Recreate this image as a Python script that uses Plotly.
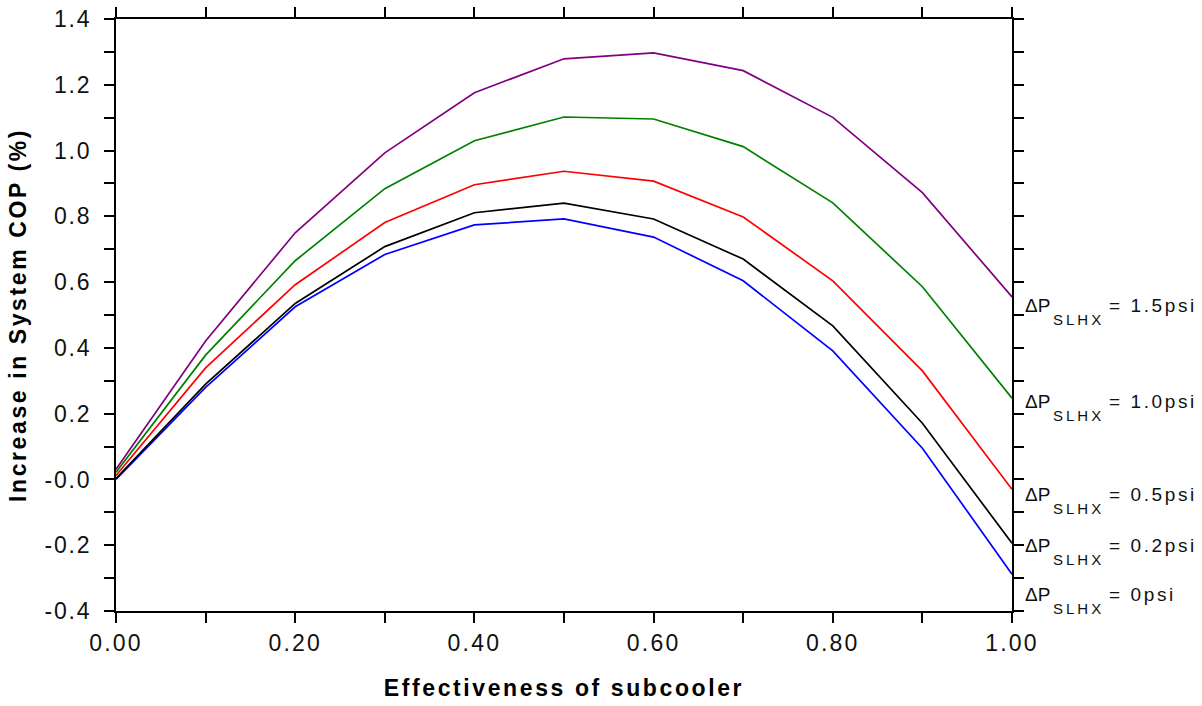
import plotly.graph_objects as go

effectiveness = [0.0, 0.1, 0.2, 0.3, 0.4, 0.5, 0.6, 0.7, 0.8, 0.9, 1.0]

cop_0psi   = [0.000, 0.280, 0.525, 0.684, 0.774, 0.792, 0.737, 0.604, 0.391, 0.095, -0.288]
cop_02psi  = [0.003, 0.290, 0.535, 0.708, 0.811, 0.840, 0.792, 0.670, 0.467, 0.171, -0.194]
cop_05psi  = [0.012, 0.339, 0.592, 0.781, 0.896, 0.937, 0.907, 0.798, 0.604, 0.330, -0.030]
cop_10psi  = [0.022, 0.378, 0.665, 0.884, 1.030, 1.102, 1.096, 1.012, 0.841, 0.586, 0.247]
cop_15psi  = [0.031, 0.421, 0.750, 0.993, 1.176, 1.279, 1.297, 1.243, 1.101, 0.872, 0.555]

series_names = ["0psi", "0.2psi", "0.5psi", "1.0psi", "1.5psi"]
series_values = [cop_0psi, cop_02psi, cop_05psi, cop_10psi, cop_15psi]
series_colors = ["#0000ff", "#000000", "#ff0000", "#008000", "#800080"]
label_y = [-0.350, -0.201, -0.045, 0.237, 0.530]

x_tickvals = [0.0, 0.2, 0.4, 0.6, 0.8, 1.0]
x_ticktext = ["0.00", "0.20", "0.40", "0.60", "0.80", "1.00"]
x_minorvals = [0.1, 0.3, 0.5, 0.7, 0.9]
y_tickvals = [-0.4, -0.2, 0.0, 0.2, 0.4, 0.6, 0.8, 1.0, 1.2, 1.4]
y_ticktext = ["-0.4", "-0.2", "-0.0", "0.2", "0.4", "0.6", "0.8", "1.0", "1.2", "1.4"]
y_minorvals = [-0.3, -0.1, 0.1, 0.3, 0.5, 0.7, 0.9, 1.1, 1.3]

FONT = "Liberation Sans, Arial, sans-serif"
TXT = "#111111"

fig = go.Figure()
for name, vals, col in zip(series_names, series_values, series_colors):
    fig.add_trace(go.Scatter(x=effectiveness, y=vals, mode="lines",
                             line=dict(color=col, width=1.7), name=name,
                             showlegend=False))

for name, ly in zip(series_names, label_y):
    fig.add_annotation(x=1.0, y=ly, xref="x", yref="y", xanchor="left", yanchor="middle",
                       align="left", xshift=11, showarrow=False, text="ΔP",
                       font=dict(family=FONT, size=19, color=TXT))
    fig.add_annotation(x=1.0, y=ly, xref="x", yref="y", xanchor="left", yanchor="middle",
                       align="left", xshift=39, yshift=-14, showarrow=False, text="SLHX",
                       font=dict(family=FONT, size=15, color=TXT))
    fig.add_annotation(x=1.0, y=ly, xref="x", yref="y", xanchor="left", yanchor="middle",
                       align="left", xshift=95, showarrow=False, text="= " + name,
                       font=dict(family=FONT, size=19, color=TXT))

axis_common = dict(showline=True, linecolor="black", linewidth=2, mirror="ticks",
                   ticks="outside", ticklen=10, tickwidth=2, tickcolor="black",
                   showgrid=False, zeroline=False, automargin=False)

fig.update_xaxes(range=[0, 1.0], tickmode="array", tickvals=x_tickvals, ticktext=x_ticktext,
                 minor=dict(tickmode="array", tickvals=x_minorvals, ticks="outside",
                            ticklen=10, tickwidth=2, tickcolor="black", showgrid=False),
                 tickfont=dict(family=FONT, size=23, color=TXT),
                 title=dict(text="Effectiveness of subcooler",
                            font=dict(family=FONT, size=23, color="black", weight="bold"),
                            standoff=25),
                 **axis_common)
fig.update_yaxes(range=[-0.4, 1.4], tickmode="array", tickvals=y_tickvals, ticktext=y_ticktext,
                 minor=dict(tickmode="array", tickvals=y_minorvals, ticks="outside",
                            ticklen=10, tickwidth=2, tickcolor="black", showgrid=False),
                 tickfont=dict(family=FONT, size=23, color=TXT),
                 ticklabelstandoff=8,
                 title=dict(text="Increase in System COP (%)",
                            font=dict(family=FONT, size=23, color="black", weight="bold"),
                            standoff=19),
                 **axis_common)

fig.update_layout(width=1202, height=706, margin=dict(l=116, r=190, t=19, b=95),
                  plot_bgcolor="white", paper_bgcolor="white",
                  font=dict(family=FONT))

post = """
var s = document.createElement('style');
s.textContent = 'html,body{margin:0;padding:0;overflow:hidden;} ' +
  '.xtick text{letter-spacing:2.2px;} .ytick text{letter-spacing:1.8px;} ' +
  '.g-xtitle text, .g-ytitle text{letter-spacing:2.6px;}';
document.head.appendChild(s);
var anns = document.querySelectorAll('.annotation');
anns.forEach(function(a, i){
  var t = a.querySelector('.annotation-text');
  if (!t) return;
  if (i % 3 === 1) t.style.letterSpacing = '3px';
  if (i % 3 === 2) t.style.letterSpacing = '2.6px';
});
"""

fig.write_html("out.html", post_script=post, config={"displayModeBar": False})
